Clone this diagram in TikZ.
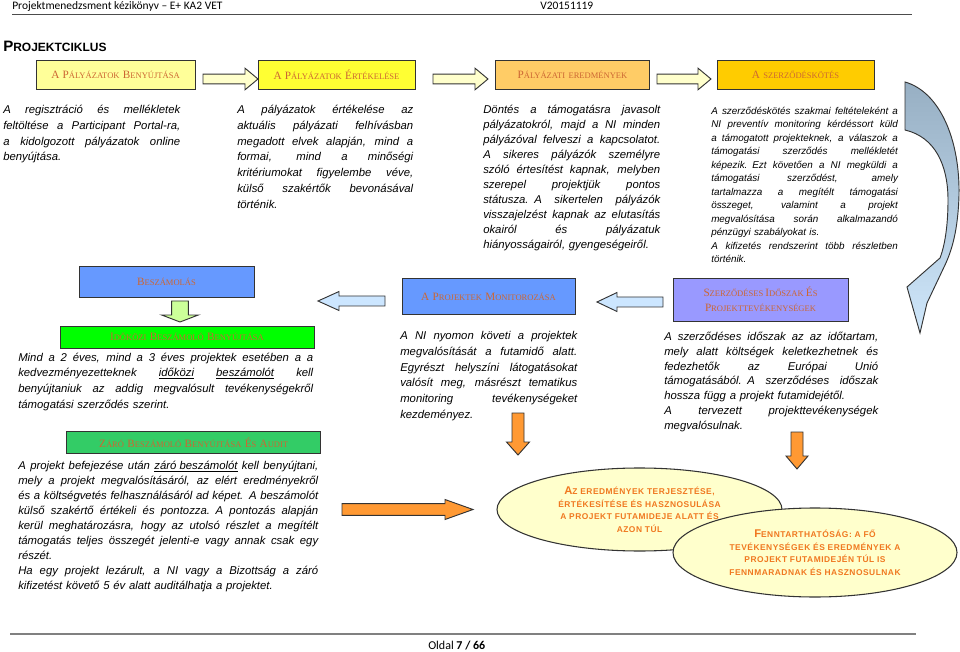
\documentclass[tikz,border=0pt]{standalone}
\usepackage{fontspec}
\setmainfont{Liberation Serif}
\newfontfamily\hdrf{Carlito}
\newfontfamily\arf{Liberation Sans}
\newfontfamily\tmsf{Liberation Serif}
\newfontfamily\elf[LetterSpace=6]{Liberation Sans}
\usetikzlibrary{shapes.geometric}
\definecolor{bordc}{HTML}{333333}
\definecolor{labc}{HTML}{CC6633}
\definecolor{yA}{HTML}{FFFF99}
\definecolor{yB}{HTML}{FFFF33}
\definecolor{yC}{HTML}{FFCC66}
\definecolor{yD}{HTML}{FFCC00}
\definecolor{arry}{HTML}{FFFFCC}
\definecolor{blu}{HTML}{6699FF}
\definecolor{lav}{HTML}{9999FF}
\definecolor{grnA}{HTML}{00FF00}
\definecolor{grnB}{HTML}{33CC66}
\definecolor{arrg}{HTML}{CCFF99}
\definecolor{arrb}{HTML}{CCE6FF}
\definecolor{orng}{HTML}{FF9933}
\definecolor{ellc}{HTML}{FFFFCC}
\definecolor{elltc}{HTML}{F07820}
\definecolor{crvA}{HTML}{97AFC3}
\definecolor{crvB}{HTML}{CFE7FB}
\newcommand\PX{0.75pt}
\def\bigsz{8.4}
\def\smsz{6.4}
\def\swx#1#2\relax{{\fontsize{\bigsz}{10}\selectfont#1}{\fontsize{\smsz}{10}\selectfont#2}}
\newcommand\sw[1]{\swx#1\relax}
\newcommand\sm[1]{{\fontsize{\smsz}{10}\selectfont#1}}
\newlength\jwd
\newcommand\jl[1]{\leavevmode\hbox to \jwd{\spaceskip=0.27em plus 10em minus 0.05em\relax #1}}
\newcommand\eb[1]{{\fontsize{8.4}{9.4}\selectfont#1}}
\newcommand\arrH[7]{\draw[blk,#1] (#2,#5-#6) -- (#3,#5-#6) -- (#3,#5-#7) -- (#4,#5) -- (#3,#5+#7) -- (#3,#5+#6) -- (#2,#5+#6) -- cycle;}
\newcommand\arrV[7]{\draw[blk,#1] (#5-#6,#2) -- (#5-#6,#3) -- (#5-#7,#3) -- (#5,#4) -- (#5+#7,#3) -- (#5+#6,#3) -- (#5+#6,#2) -- cycle;}
\begin{document}
\begin{tikzpicture}[x=0.75pt,y=-0.75pt,
  box/.style={draw=bordc, line width=0.7pt, inner sep=0pt, font=\tmsf, text=labc, align=center},
  blk/.style={draw=bordc, line width=0.7pt, line join=miter},
  body/.style={inner sep=0pt, anchor=base west, align=left, text width=#1},
  ell/.style={ellipse, draw=bordc, line width=0.8pt, fill=ellc, inner sep=0pt, text=elltc, align=center, font=\elf\bfseries\fontsize{6.3}{9.4}\selectfont}]
\useasboundingbox (0,0) rectangle (960,652);
% header
\node[inner sep=0pt, anchor=base west, font=\hdrf\fontsize{8.6}{10}\selectfont] (hd) at (12,10) {Projektmenedzsment kézikönyv – E+ KA2 VET};
\node[inner sep=0pt, anchor=base west, font=\hdrf\fontsize{8.6}{10}\selectfont] (ver) at (540,10) {V20151119};
\coordinate (hlA) at (12,14); \coordinate (hlB) at (912,14);
\draw[line width=0.6pt, draw=black!70] (hlA) -- (hlB);
\node[inner sep=0pt, anchor=base west, font=\arf\bfseries] (title) at (3,52) {{\fontsize{11.3}{12}\selectfont P}{\fontsize{9}{12}\selectfont ROJEKTCIKLUS}};
% top boxes
\node[box, fill=yA, minimum width=159*\PX, minimum height=29*\PX] (b1) at (115.5,74.5) {\sw{A} \sw{PÁLYÁZATOK} \sw{BENYÚJTÁSA}};
\node[box, fill=yB, minimum width=157*\PX, minimum height=29*\PX] (b2) at (336.5,74.5) {\sw{A} \sw{PÁLYÁZATOK} \sw{ÉRTÉKELÉSE}};
\node[box, fill=yC, minimum width=154*\PX, minimum height=29*\PX] (b3) at (572.5,74.5) {\sw{PÁLYÁZATI} \sm{EREDMÉNYEK}};
\node[box, fill=yD, minimum width=157*\PX, minimum height=29*\PX] (b4) at (795.5,74.5) {\sw{A} \sm{SZERZŐDÉSKÖTÉS}};
\arrH{fill=arry}{203}{245}{258}{79}{4.8}{10.8}
\arrH{fill=arry}{433}{475}{488}{79}{4.8}{10.8}
\arrH{fill=arry}{657}{698}{711}{79}{4.8}{10.8}
% top texts
\setlength\jwd{132.75pt}
\node[body=132.75pt, font=\arf\itshape\fontsize{8.5}{11.85}\selectfont] (t1) at (3,113.5) {%
\jl{A regisztráció és mellékletek}\\
\jl{feltöltése a Participant Portal-ra,}\\
\jl{a kidolgozott pályázatok online}\\
benyújtása.};
\setlength\jwd{132pt}
\node[body=132pt, font=\arf\itshape\fontsize{8.5}{11.85}\selectfont] (t2) at (237,113.5) {%
\jl{A pályázatok értékelése az}\\
\jl{aktuális pályázati felhívásban}\\
\jl{megadott elvek alapján, mind a}\\
\jl{formai, mind a minőségi}\\
\jl{kritériumokat figyelembe véve,}\\
\jl{külső szakértők bevonásával}\\
történik.};
\setlength\jwd{132.75pt}
\node[body=132.75pt, font=\arf\itshape\fontsize{8.5}{11.25}\selectfont] (t3) at (483,114) {%
\jl{Döntés a támogatásra javasolt}\\
\jl{pályázatokról, majd a NI minden}\\
\jl{pályázóval felveszi a kapcsolatot.}\\
\jl{A sikeres pályázók személyre}\\
\jl{szóló értesítést kapnak, melyben}\\
\jl{szerepel projektjük pontos}\\
\jl{státusza. A sikertelen pályázók}\\
\jl{visszajelzést kapnak az elutasítás}\\
\jl{okairól és pályázatuk}\\
hiányosságairól, gyengeségeiről.};
\setlength\jwd{140pt}
\node[body=140pt, font=\arf\itshape\fontsize{7.4}{10.1}\selectfont] (t4) at (711,114.5) {%
\jl{A szerződéskötés szakmai feltételeként a}\\
\jl{NI preventív monitoring kérdéssort küld}\\
\jl{a támogatott projekteknek, a válaszok a}\\
\jl{támogatási szerződés mellékletét}\\
\jl{képezik. Ezt követően a NI megküldi a}\\
\jl{támogatási szerződést, amely}\\
\jl{tartalmazza a megítélt támogatási}\\
\jl{összeget, valamint a projekt}\\
\jl{megvalósítása során alkalmazandó}\\
pénzügyi szabályokat is.\\
\jl{A kifizetés rendszerint több részletben}\\
történik.};
% curved arrow
\coordinate (cvA) at (905,82);
\coordinate (cvB) at (905,130);
\shadedraw[top color=crvA, bottom color=crvB, draw=bordc, line width=0.7pt, line join=miter]
 (cvA) .. controls (940,92) and (960,140) .. (959,195)
 .. controls (958,230) and (952,250) .. (945,265)
 -- (927,303) -- (920,333) -- (907,287) -- (940,258)
 .. controls (945,245) and (948,225) .. (948,200)
 .. controls (948,165) and (935,137) .. (cvB) -- cycle;
% middle row
\node[box, fill=blu, minimum width=175*\PX, minimum height=30.6*\PX] (besz) at (166.5,282) {\sw{BESZÁMOLÁS}};
\arrV{fill=arrg}{301}{315}{322}{180}{8.3}{18.3}
\node[box, fill=grnA, minimum width=254*\PX, minimum height=22*\PX] (idok) at (187,337) {\sw{IDŐKÖZI} \sw{BESZÁMOLÓ} \sw{BENYÚJTÁSA}};
\arrH{fill=arrb}{385}{339}{318}{301}{5}{9.5}
\node[box, fill=blu, minimum width=173*\PX, minimum height=36*\PX] (mon) at (488.5,296.5) {\sw{A} \sw{PROJEKTEK} \sw{MONITOROZÁSA}};
\arrH{fill=arrb}{663}{617}{597}{302}{5}{9.5}
\node[box, fill=lav, minimum width=175*\PX, minimum height=43*\PX, font=\tmsf\fontsize{6.4}{11.25}\selectfont] (szerz) at (760.5,299.5) {\sw{SZERZŐDÉSES} \sw{IDŐSZAK} \sw{ÉS}\\\sw{PROJEKTTEVÉKENYSÉGEK}};
% middle texts
\setlength\jwd{221.25pt}
\node[body=221.25pt, font=\arf\itshape\fontsize{8.5}{11.8}\selectfont] (mind) at (18,361) {%
\jl{Mind a 2 éves, mind a 3 éves projektek esetében a a}\\
\jl{kedvezményezetteknek \underline{időközi} \underline{beszámolót} kell}\\
\jl{benyújtaniuk az addig megvalósult tevékenységekről}\\
támogatási szerződés szerint.};
\setlength\jwd{132.75pt}
\node[body=132.75pt, font=\arf\itshape\fontsize{8.5}{11.85}\selectfont] (mont) at (400,339.5) {%
\jl{A NI nyomon követi a projektek}\\
\jl{megvalósítását a futamidő alatt.}\\
\jl{Egyrészt helyszíni látogatásokat}\\
\jl{valósít meg, másrészt tematikus}\\
\jl{monitoring tevékenységeket}\\
kezdeményez.};
\setlength\jwd{160.5pt}
\node[body=160.5pt, font=\arf\itshape\fontsize{8.5}{11.1}\selectfont] (szt) at (664,340.5) {%
\jl{A szerződéses időszak az az időtartam,}\\
\jl{mely alatt költségek keletkezhetnek és}\\
\jl{fedezhetők az Európai Unió}\\
\jl{támogatásából. A szerződéses időszak}\\
hossza függ a projekt futamidejétől.\\
\jl{A tervezett projekttevékenységek}\\
megvalósulnak.};
% bottom left
\node[box, fill=grnB, minimum width=254*\PX, minimum height=21.7*\PX] (zaro) at (193.7,442.5) {\sw{ZÁRÓ} \sw{BESZÁMOLÓ} \sw{BENYÚJTÁSA} \sw{ÉS} \sw{AUDIT}};
\setlength\jwd{225pt}
\node[body=225pt, font=\arf\itshape\fontsize{8.5}{11.3}\selectfont] (zt) at (18,469) {%
\jl{A projekt befejezése után \underline{záró beszámolót} kell benyújtani,}\\
\jl{mely a projekt megvalósításáról, az elért eredményekről}\\
\jl{és a költségvetés felhasználásáról ad képet. A beszámolót}\\
\jl{külső szakértő értékeli és pontozza. A pontozás alapján}\\
\jl{kerül meghatározásra, hogy az utolsó részlet a megítélt}\\
\jl{támogatás teljes összegét jelenti-e vagy annak csak egy}\\
részét.\\
\jl{Ha egy projekt lezárult, a NI vagy a Bizottság a záró}\\
kifizetést követő 5 év alatt auditálhatja a projektet.};
% orange arrows
\arrH{fill=orng}{342}{445}{473}{509.5}{5.8}{10}
\arrV{fill=orng}{413}{442}{455}{518}{6}{11.5}
\arrV{fill=orng}{432}{456}{469}{797}{6}{11}
% ellipses
\node[ell, minimum width=285*\PX, minimum height=83*\PX] (e1) at (639.5,509.5) {\eb{A}Z EREDMÉNYEK TERJESZTÉSE,\\ÉRTÉKESÍTÉSE ÉS HASZNOSULÁSA\\A PROJEKT FUTAMIDEJE ALATT ÉS\\AZON TÚL};
\node[ell, minimum width=284*\PX, minimum height=89*\PX] (e2) at (815,552.5) {\eb{F}ENNTARTHATÓSÁG: A FŐ\\TEVÉKENYSÉGEK ÉS EREDMÉNYEK A\\PROJEKT FUTAMIDEJÉN TÚL IS\\FENNMARADNAK ÉS HASZNOSULNAK};
% footer
\coordinate (flA) at (10,634); \coordinate (flB) at (916,634);
\draw[line width=1.1pt, draw=black!50] (flA) -- (flB);
\node[inner sep=0pt, anchor=base west, font=\hdrf\fontsize{9}{11}\selectfont] (ft) at (428,649) {Oldal \textbf{7 / 66}};
\end{tikzpicture}
\end{document}
